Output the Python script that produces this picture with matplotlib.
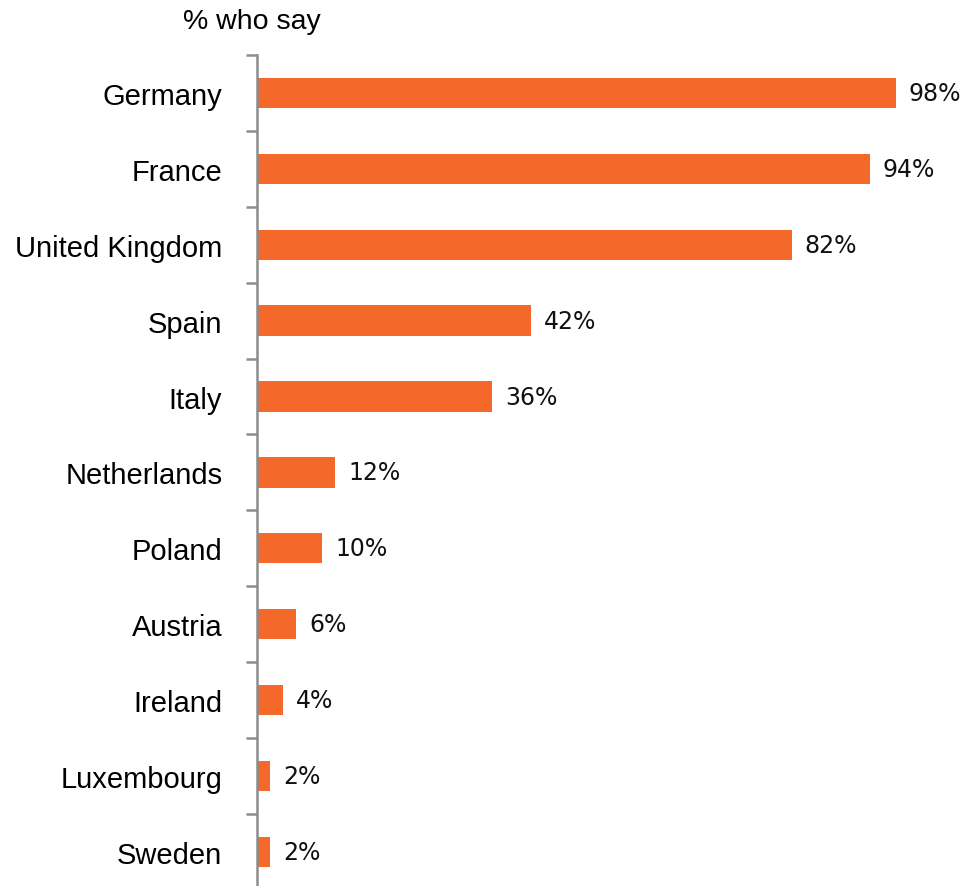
import matplotlib.pyplot as plt

countries = ["Germany", "France", "United Kingdom", "Spain", "Italy", "Netherlands",
             "Poland", "Austria", "Ireland", "Luxembourg", "Sweden"]
values = [98, 94, 82, 42, 36, 12, 10, 6, 4, 2, 2]

W, H = 969, 887
fig = plt.figure(figsize=(W / 100, H / 100), dpi=100)
ax = fig.add_axes([257 / W, 0, (W - 257) / W, (H - 56) / H])

ypos = list(range(len(countries)))
ax.barh(ypos, values, height=0.4, color="#F4692A")
for y, v in zip(ypos, values):
    ax.text(v + 2, y, f"{v}%", va="center", ha="left", fontsize=17,
            family="DejaVu Sans", color="#111111")

ax.set_xlim(0, (W - 257) / 6.52)
ax.set_ylim(10.45, -0.5)

for s in ["top", "right", "bottom"]:
    ax.spines[s].set_visible(False)
ax.spines["left"].set_color("#8c8c8c")
ax.spines["left"].set_linewidth(1.8)
ax.set_xticks([])
ax.set_yticks(ypos)
ax.set_yticklabels(countries, fontsize=21, family="Liberation Sans")
ax.tick_params(axis="y", which="major", length=0, pad=25)
ax.set_yticks([i - 0.5 for i in range(len(countries))], minor=True)
ax.tick_params(axis="y", which="minor", length=8, width=1.8, color="#8c8c8c")

fig.text(183 / W, 1 - 22 / H, "% who say", fontsize=20.5, family="Liberation Sans",
         va="center", ha="left")

fig.savefig("out.png", dpi=100)
